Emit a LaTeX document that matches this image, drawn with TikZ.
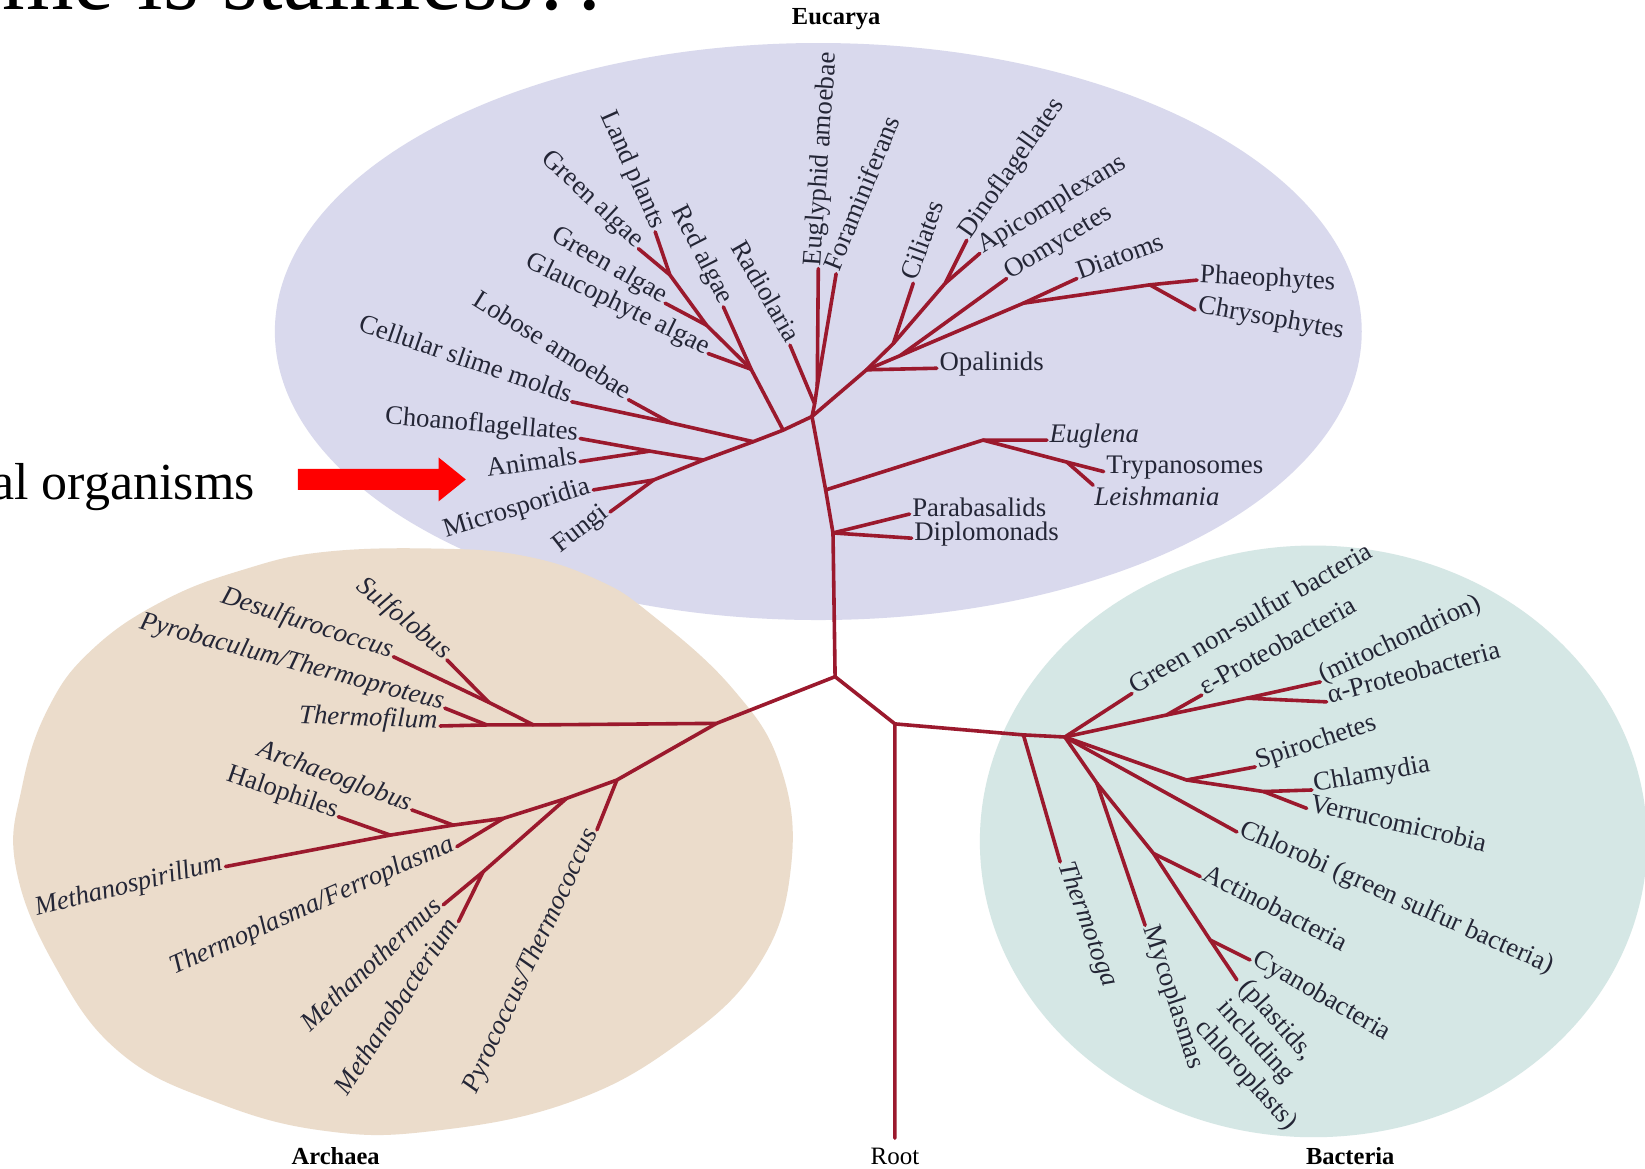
\documentclass[tikz,border=0pt]{standalone}
\usepackage{fontspec}
\setmainfont{Liberation Serif}
\definecolor{eucol}{RGB}{217,217,237}
\definecolor{arccol}{RGB}{235,220,203}
\definecolor{baccol}{RGB}{213,231,229}
\definecolor{treecol}{RGB}{155,25,45}
\definecolor{labcol}{RGB}{36,38,54}
\begin{document}
\begin{tikzpicture}[x=1.0491pt,y=-1.0491pt,
  br/.style={draw=treecol,line width=3.6pt,line cap=round,line join=round},
  lab/.style={text=labcol,font=\fontsize{26.8}{29.5}\selectfont,inner sep=2.5pt},
  ilab/.style={lab,font=\fontsize{26.8}{29.5}\selectfont\itshape},
  dom/.style={text=black,font=\fontsize{24.5}{26}\selectfont\bfseries,inner sep=0pt},
  toleft/.style={anchor=mid east,rotate=#1},
  toright/.style={anchor=mid west,rotate=#1}]
\useasboundingbox (0,0) rectangle (1568,1114);
\clip (0,0) rectangle (1568,1114);
\fill[white] (0,0) rectangle (1568,1114);
% domains
\fill[eucol] (780,316) ellipse (518 and 275);
\fill[arccol] plot[smooth cycle,tension=0.7] coordinates {(46,675) (88,619) (155,573) (232,543) (310,526) (420,523) (500,530) (568,552) (620,585) (698,656) (744,731) (754,826) (723,920) (646,995) (542,1051) (413,1078) (310,1078) (207,1051) (114,1003) (52,920) (15,826) (21,750)};
\fill[baccol] (1252,802) ellipse (318 and 282);
% slide texts
\node[anchor=base west,inner sep=0pt,font=\fontsize{92}{92}\selectfont] (title) at (2,8.6) {me is stainless?!};
\node[anchor=base east,inner sep=0pt,font=\fontsize{52}{56}\selectfont] (orgs) at (243,476) {al organisms};
\fill[red] (284,447) -- (418,447) -- (418,436) -- (444,457) -- (418,478) -- (418,467) -- (284,467) -- cycle;
% coordinates
\coordinate (C) at (796,645);
\coordinate (R) at (853,690);
\coordinate (RootEnd) at (853,1085);
\coordinate (EP) at (794,508);
\coordinate (EE) at (787,467);
\coordinate (ET) at (774,397);
\coordinate (RadJ) at (776.5,385);
\coordinate (FV) at (779,368);
\coordinate (Eugly) at (780,256);
\coordinate (Foram) at (797,261);
\coordinate (Rad) at (753,329);
\coordinate (Para) at (867,490);
\coordinate (Diplo) at (869,513);
\coordinate (EuV) at (937,419.5);
\coordinate (Eug) at (998,419.5);
\coordinate (TLV) at (1017,440.5);
\coordinate (Tryp) at (1052,449.5);
\coordinate (Leish) at (1042,462.5);
\coordinate (OV) at (826,352.5);
\coordinate (Opal) at (893,351);
\coordinate (OomJ) at (858,339);
\coordinate (DiaJ) at (975.5,289);
\coordinate (PCV) at (1096,271.5);
\coordinate (Phaeo) at (1141,267);
\coordinate (Chryso) at (1139,295.5);
\coordinate (Diat) at (1026.5,265.5);
\coordinate (Oom) at (959.5,265.5);
\coordinate (CiJ) at (851.5,327.5);
\coordinate (Cil) at (870.5,270);
\coordinate (DAV) at (901,270);
\coordinate (Dino) at (921.5,229);
\coordinate (Api) at (934,241.5);
\coordinate (L1) at (746.5,410);
\coordinate (PV3) at (716,352);
\coordinate (PV2) at (673.5,310);
\coordinate (PV1) at (638.5,262);
\coordinate (Land) at (624.5,221);
\coordinate (GAa) at (608.5,237);
\coordinate (GAb) at (634,289);
\coordinate (Glau) at (675,337);
\coordinate (Red) at (689.5,292.5);
\coordinate (L2) at (718,421);
\coordinate (LobJ) at (639,403);
\coordinate (Cell) at (545,383);
\coordinate (Lob) at (599,381);
\coordinate (L3) at (670.5,438.5);
\coordinate (CAV) at (619.5,430);
\coordinate (Choano) at (553,418);
\coordinate (Anim) at (553,440);
\coordinate (L4) at (623,457.5);
\coordinate (Micro) at (565.5,467);
\coordinate (Fungi) at (581.5,488);
\coordinate (A1) at (683,689.5);
\coordinate (H1) at (508.5,691);
\coordinate (H2) at (464,691);
\coordinate (Tfil) at (419.5,692);
\coordinate (SDV) at (466,669.5);
\coordinate (Desul) at (375,626);
\coordinate (Sulf) at (426,629);
\coordinate (Pyrob) at (424,675);
\coordinate (AR1) at (588,743.5);
\coordinate (AR2) at (540,761);
\coordinate (AR3) at (480,780);
\coordinate (AR4) at (432,786.5);
\coordinate (AR5) at (372,796);
\coordinate (Mspir) at (215,826);
\coordinate (Pyroc) at (569,791);
\coordinate (MMV) at (460.5,831);
\coordinate (Mther) at (422.5,862.5);
\coordinate (Mbac) at (437,878.5);
\coordinate (Tpla) at (435.5,807);
\coordinate (Aglob) at (392.5,772);
\coordinate (Halo) at (322.5,778.5);
\coordinate (ThJ) at (975.5,700.5);
\coordinate (Hub) at (1015,702.5);
\coordinate (Ttog) at (1010.5,821.5);
\coordinate (GNS) at (1079,661);
\coordinate (PA) at (1112,681.5);
\coordinate (Eps) at (1145.5,662.5);
\coordinate (AMV) at (1188.5,665.5);
\coordinate (Mito) at (1258.5,650);
\coordinate (Alpha) at (1264.5,669);
\coordinate (SV) at (1131,743.5);
\coordinate (Spiro) at (1196.5,731);
\coordinate (CV) at (1204.5,754.5);
\coordinate (Chlam) at (1250.5,753);
\coordinate (Verr) at (1245.5,770.5);
\coordinate (Chlor) at (1179,793);
\coordinate (MJ) at (1045.5,746.5);
\coordinate (Myco) at (1091.5,882);
\coordinate (ActV) at (1099.5,813.5);
\coordinate (Actino) at (1144,835.5);
\coordinate (CyV) at (1153.5,896);
\coordinate (Cyano) at (1191.5,915);
\coordinate (Plast) at (1179,934);
% tree
\draw[br] (RootEnd) -- (R) -- (C);
\draw[br] (C) -- (EP) -- (EE) -- (ET) -- (RadJ) -- (FV) -- (Eugly);
\draw[br] (FV) -- (Foram);
\draw[br] (RadJ) -- (Rad);
\draw[br] (EP) -- (Para);
\draw[br] (EP) -- (Diplo);
\draw[br] (EE) -- (EuV) -- (Eug);
\draw[br] (EuV) -- (TLV) -- (Tryp);
\draw[br] (TLV) -- (Leish);
\draw[br] (ET) -- (OV) -- (Opal);
\draw[br] (OV) -- (OomJ) -- (DiaJ) -- (PCV) -- (Phaeo);
\draw[br] (PCV) -- (Chryso);
\draw[br] (DiaJ) -- (Diat);
\draw[br] (OomJ) -- (Oom);
\draw[br] (OV) -- (CiJ) -- (Cil);
\draw[br] (CiJ) -- (DAV) -- (Dino);
\draw[br] (DAV) -- (Api);
\draw[br] (ET) -- (L1) -- (L2) -- (L3) -- (L4) -- (Micro);
\draw[br] (L4) -- (Fungi);
\draw[br] (L1) -- (PV3) -- (Red);
\draw[br] (PV3) -- (Glau);
\draw[br] (PV3) -- (PV2) -- (PV1) -- (Land);
\draw[br] (PV1) -- (GAa);
\draw[br] (PV2) -- (GAb);
\draw[br] (L2) -- (LobJ) -- (Cell);
\draw[br] (LobJ) -- (Lob);
\draw[br] (L3) -- (CAV) -- (Choano);
\draw[br] (CAV) -- (Anim);
\draw[br] (C) -- (A1) -- (H1) -- (H2) -- (Tfil);
\draw[br] (H1) -- (SDV) -- (Desul);
\draw[br] (SDV) -- (Sulf);
\draw[br] (H2) -- (Pyrob);
\draw[br] (A1) -- (AR1) -- (AR2) -- (AR3) -- (AR4) -- (AR5) -- (Mspir);
\draw[br] (AR1) -- (Pyroc);
\draw[br] (AR2) -- (MMV) -- (Mther);
\draw[br] (MMV) -- (Mbac);
\draw[br] (AR3) -- (Tpla);
\draw[br] (AR4) -- (Aglob);
\draw[br] (AR5) -- (Halo);
\draw[br] (R) -- (ThJ) -- (Hub);
\draw[br] (ThJ) -- (Ttog);
\draw[br] (Hub) -- (GNS);
\draw[br] (Hub) -- (PA) -- (Eps);
\draw[br] (PA) -- (AMV) -- (Mito);
\draw[br] (AMV) -- (Alpha);
\draw[br] (Hub) -- (SV) -- (Spiro);
\draw[br] (SV) -- (CV) -- (Chlam);
\draw[br] (CV) -- (Verr);
\draw[br] (Hub) -- (Chlor);
\draw[br] (Hub) -- (MJ) -- (Myco);
\draw[br] (MJ) -- (ActV) -- (Actino);
\draw[br] (ActV) -- (CyV) -- (Cyano);
\draw[br] (CyV) -- (Plast);
% Eucarya labels
\node[lab,toleft=-66] (nLand) at (Land) {Land plants};
\node[lab,toleft=-43] (nGAa) at (GAa) {Green algae};
\node[lab,toleft=-63] (nRed) at (Red) {Red algae};
\node[lab,toleft=-30] (nGAb) at (GAb) {Green algae};
\node[lab,toleft=-26] (nGlau) at (Glau) {Glaucophyte algae};
\node[lab,toleft=-60] (nRad) at (Rad) {Radiolaria};
\node[lab,toleft=-32] (nLob) at (Lob) {Lobose amoebae};
\node[lab,toleft=-19] (nCell) at (Cell) {Cellular slime molds};
\node[lab,toleft=-5] (nChoano) at (Choano) {Choanoflagellates};
\node[lab,toleft=8] (nAnim) at (Anim) {Animals};
\node[lab,toleft=17] (nMicro) at (Micro) {Microsporidia};
\node[lab,toleft=38] (nFungi) at (Fungi) {Fungi};
\node[lab,toright=86] (nEugly) at (Eugly) {Euglyphid amoebae};
\node[lab,toright=68] (nForam) at (Foram) {Foraminiferans};
\node[lab,toright=70] (nCil) at (Cil) {Ciliates};
\node[lab,toright=55] (nDino) at (Dino) {Dinoflagellates};
\node[lab,toright=31] (nApi) at (Api) {Apicomplexans};
\node[lab,toright=31] (nOom) at (Oom) {Oomycetes};
\node[lab,toright=20] (nDiat) at (Diat) {Diatoms};
\node[lab,toright=-3] (nPhaeo) at (Phaeo) {Phaeophytes};
\node[lab,toright=-10] (nChryso) at (Chryso) {Chrysophytes};
\node[lab,toright=0] (nOpal) at (Opal) {Opalinids};
\node[ilab,toright=0] (nEug) at (Eug) {Euglena};
\node[lab,toright=0] (nTryp) at (Tryp) {Trypanosomes};
\node[ilab,anchor=north west,inner sep=1pt] (nLeish) at (Leish) {Leishmania};
\node[lab,toright=0] (nPara) at (Para) {Parabasalids};
\node[lab,toright=0] (nDiplo) at (Diplo) {Diplomonads};
% Archaea labels
\node[ilab,toleft=-39] (nSulf) at (Sulf) {Sulfolobus};
\node[ilab,toleft=-18] (nDesul) at (Desul) {Desulfurococcus};
\node[ilab,toleft=-15] (nPyrob) at (Pyrob) {Pyrobaculum/Thermoproteus};
\node[ilab,toleft=-2] (nTfil) at (Tfil) {Thermofilum};
\node[ilab,toleft=-20] (nAglob) at (Aglob) {Archaeoglobus};
\node[lab,toleft=-19] (nHalo) at (Halo) {Halophiles};
\node[ilab,toleft=14] (nMspir) at (Mspir) {Methanospirillum};
\node[ilab,toleft=24] (nTpla) at (Tpla) {Thermoplasma/Ferroplasma};
\node[ilab,toleft=43] (nMther) at (Mther) {Methanothermus};
\node[ilab,toleft=57] (nMbac) at (Mbac) {Methanobacterium};
\node[ilab,toleft=65] (nPyroc) at (Pyroc) {Pyrococcus/Thermococcus};
% Bacteria labels
\node[lab,toright=30] (nGNS) at (GNS) {Green non-sulfur bacteria};
\node[lab,toright=29] (nEps) at (Eps) {ε-Proteobacteria};
\node[lab,toright=25] (nMito) at (Mito) {(mitochondrion)};
\node[lab,toright=15] (nAlpha) at (Alpha) {α-Proteobacteria};
\node[lab,toright=18] (nSpiro) at (Spiro) {Spirochetes};
\node[lab,toright=10] (nChlam) at (Chlam) {Chlamydia};
\node[lab,toright=-13] (nVerr) at (Verr) {Verrucomicrobia};
\node[lab,toright=-24] (nChlor) at (Chlor) {Chlorobi (green sulfur bacteria)};
\node[lab,toright=-27] (nActino) at (Actino) {Actinobacteria};
\node[lab,toright=-30] (nCyano) at (Cyano) {Cyanobacteria};
\node[lab,align=left,rotate=-48,anchor=north west] (nPlast) at (1194,927) {(plastids,\\including\\chloroplasts)};
\node[lab,toright=-72] (nMyco) at (Myco) {Mycoplasmas};
\node[ilab,toright=-70] (nTtog) at (Ttog) {Thermotoga};
% domain names
\node[dom] (dEuc) at (797,18) {Eucarya};
\node[dom] (dArc) at (320,1102) {Archaea};
\node[dom] (dBac) at (1287,1102) {Bacteria};
\node[dom,font=\fontsize{25}{26}\selectfont] (dRoot) at (853,1102) {Root};
\end{tikzpicture}
\end{document}
